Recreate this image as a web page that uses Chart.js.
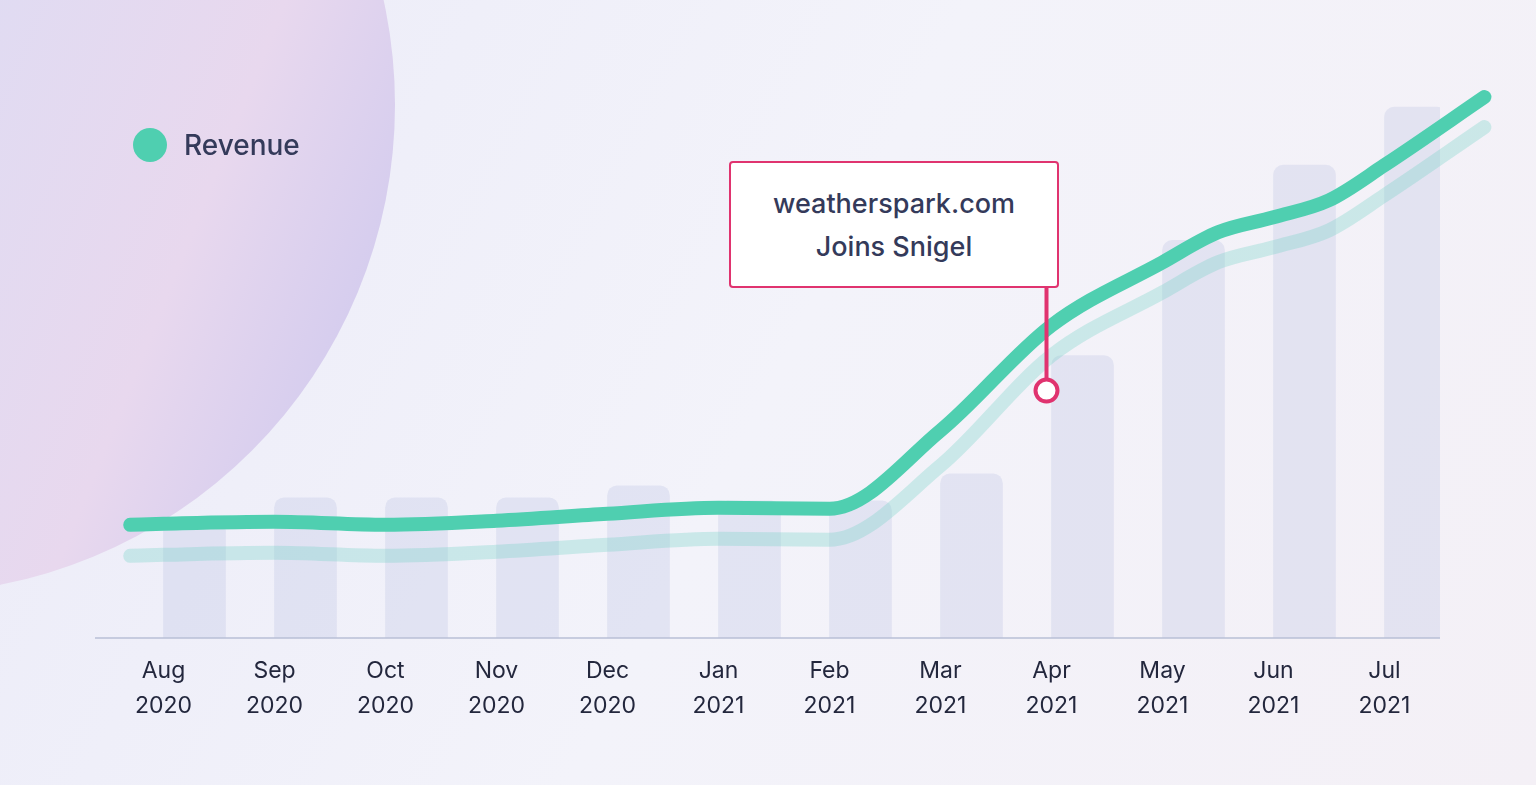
<!DOCTYPE html>
<html><head><meta charset="utf-8">
<script src="https://cdn.jsdelivr.net/npm/chart.js@4"></script>
<style>
html,body{margin:0;padding:0;width:1536px;height:785px;overflow:hidden;font-family:Inter,"Noto Sans",sans-serif;}
#wrap{position:absolute;left:0;top:0;width:1536px;height:785px;}
#legend{position:absolute;left:133px;top:128px;display:flex;align-items:center;font-size:28px;color:#343a5a;font-weight:500;}
#legend span.dot{width:34px;height:34px;border-radius:50%;background:#4fcfb0;margin-right:17px;display:inline-block;}
#note{position:absolute;left:729px;top:161px;width:330px;height:127px;border:2px solid #e0336f;border-radius:4px;background:#fff;box-sizing:border-box;display:flex;flex-direction:column;justify-content:center;align-items:center;font-size:27px;line-height:43px;color:#343a5a;font-weight:500;}
</style></head>
<body>
<div id="wrap"><canvas id="c" width="1536" height="785"></canvas></div>
<div id="legend"><span class="dot"></span>Revenue</div>
<div id="note"><div>weatherspark.com</div><div>Joins Snigel</div></div>
<script>
const categories=[["Aug","2020"],["Sep","2020"],["Oct","2020"],["Nov","2020"],["Dec","2020"],["Jan","2021"],["Feb","2021"],["Mar","2021"],["Apr","2021"],["May","2021"],["Jun","2021"],["Jul","2021"]];
const barValues=[117,140,140,140,152,137,137,164,282,397,472,530];
const lineX=[-0.3,0,1,2,3,4,5,6,7,8,9,9.5,10,10.5,11,11.9];
const revenue=[113,114,116,113,117,124,130,129,207,312,375,405,420,437,472,540];
const revenueShadow=[82,83,85,82,86,93,99,98,172,282,345,375,390,407,442,510];
const annotIndex=8;

const bgPlugin={id:'bg',beforeDraw(ch){const c=ch.ctx;c.save();
 let g=c.createLinearGradient(0,0,1536,785);g.addColorStop(0,'#ebebf8');g.addColorStop(0.5,'#f3f3fa');g.addColorStop(1,'#f4f0f6');
 c.fillStyle=g;c.fillRect(0,0,1536,785);
 let rg=c.createLinearGradient(-100,100,395,300);rg.addColorStop(0,'#dfdcf3');rg.addColorStop(0.6,'#e8d8ee');rg.addColorStop(1,'#d2cbee');
 c.fillStyle=rg;c.beginPath();c.arc(-94,105,489,0,Math.PI*2);c.fill();c.restore();},
 afterDatasetsDraw(ch){const c=ch.ctx;const xs=ch.scales.x,ys=ch.scales.y;
 const x=xs.getPixelForValue(annotIndex)-5;const y=ys.getPixelForValue(247);
 c.save();c.strokeStyle='#e0336f';c.lineWidth=4;c.beginPath();c.moveTo(x,287);c.lineTo(x,y);c.stroke();
 c.beginPath();c.arc(x,y,11,0,Math.PI*2);c.fillStyle='#fff';c.fill();c.lineWidth=4;c.stroke();
 c.strokeStyle='#b8bfd6';c.lineWidth=1.5;c.beginPath();c.moveTo(95,ys.getPixelForValue(0));c.lineTo(1440,ys.getPixelForValue(0));c.stroke();c.restore();}};

new Chart(document.getElementById('c'),{
 data:{labels:categories,datasets:[
  {type:'line',xAxisID:'xl',data:lineX.map((v,i)=>({x:v,y:revenueShadow[i]})),borderColor:'rgba(110,210,195,0.3)',borderWidth:14,pointRadius:0,tension:0.4,cubicInterpolationMode:'monotone',clip:false,borderCapStyle:'round'},
  {type:'line',xAxisID:'xl',data:lineX.map((v,i)=>({x:v,y:revenue[i]})),borderColor:'#4fcfb0',borderWidth:14,pointRadius:0,tension:0.4,cubicInterpolationMode:'monotone',clip:false,borderCapStyle:'round'},
  {type:'bar',xAxisID:'x',data:barValues,backgroundColor:'rgba(195,200,228,0.35)',borderRadius:10,barThickness:62}
 ]},
 options:{responsive:false,animation:false,
  layout:{padding:{left:108,right:96,top:60,bottom:54}},
  plugins:{legend:{display:false},tooltip:{enabled:false}},
  scales:{
   x:{type:'category',offset:true,grid:{display:false},border:{display:false},ticks:{color:'#23273d',font:{family:'Inter',size:23,lineHeight:1.5},padding:8}},
   xl:{type:'linear',min:-0.5,max:11.5,display:false},
   y:{min:0,max:577,display:false}
  }},
 plugins:[bgPlugin]});
</script>
</body></html>
